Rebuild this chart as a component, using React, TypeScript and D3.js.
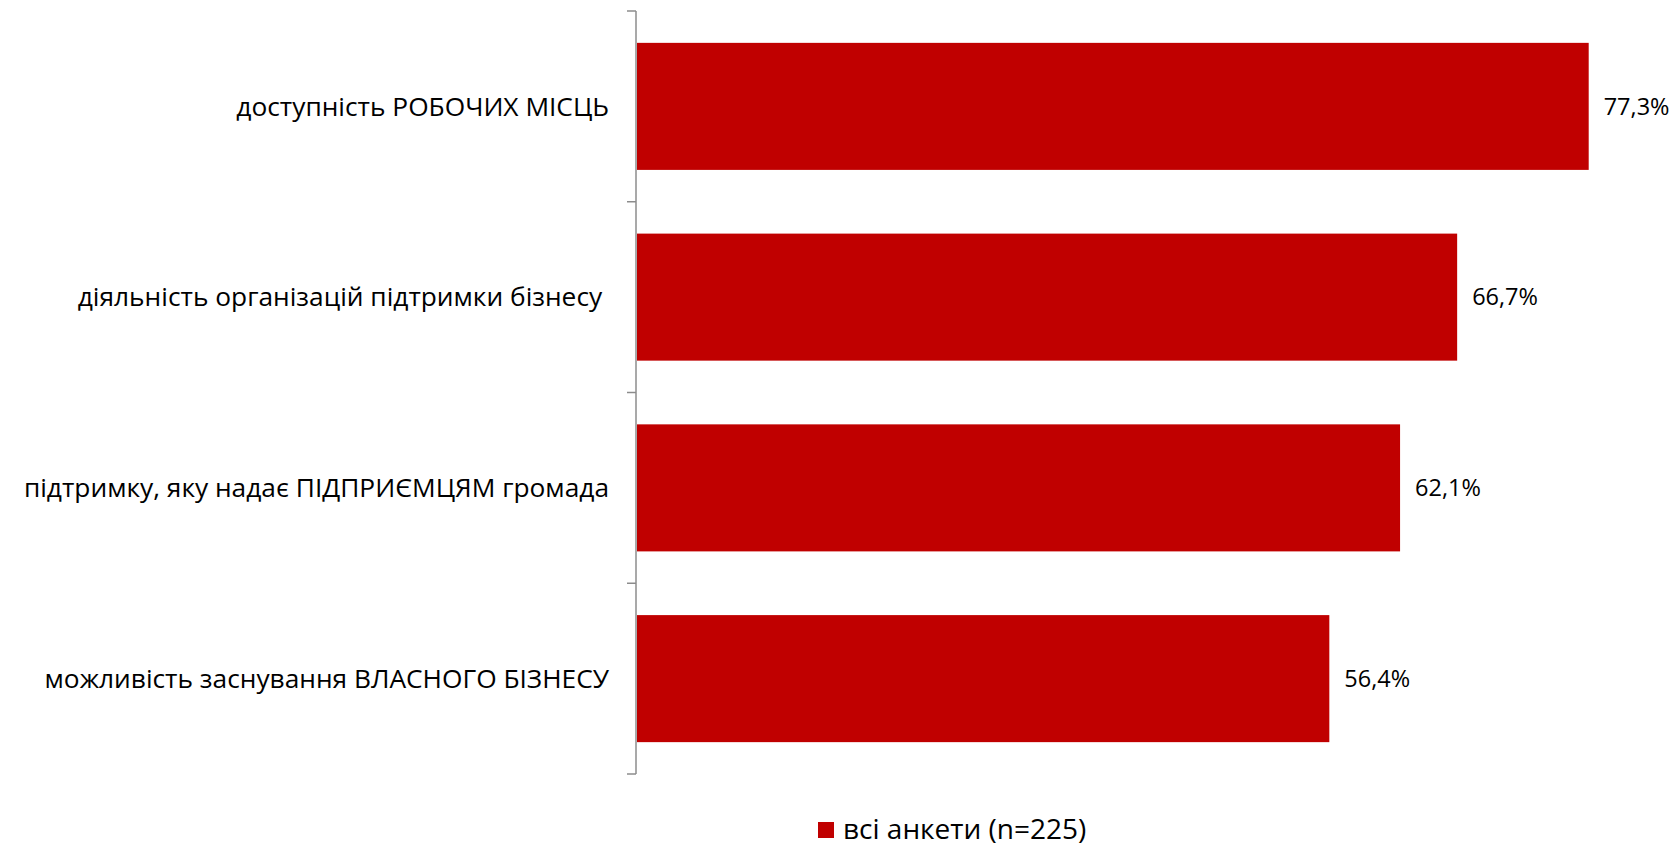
import React from "react";
import * as d3 from "d3";

const categories = [
  "доступність РОБОЧИХ МІСЦЬ",
  "діяльність організацій підтримки бізнесу ",
  "підтримку, яку надає ПІДПРИЄМЦЯМ громада",
  "можливість заснування ВЛАСНОГО БІЗНЕСУ",
];
const values = [0.773, 0.667, 0.621, 0.564];
const valueLabels = ["77,3%", "66,7%", "62,1%", "56,4%"];
const seriesName = "всі анкети (n=225)";

const W = 1674;
const H = 846;
const FONT = "'Open Sans', 'Noto Sans', sans-serif";
const BAR = "#C00000";
const AXIS = "#8C8C8C";

export default function App() {
  const axisX = 636;
  const top = 11;
  const bottom = 774;

  const y = d3.scaleBand<string>().domain(categories).range([top, bottom]).paddingInner(0.334).paddingOuter(0.167);
  const x = d3.scaleLinear().domain([0, 0.773]).range([629.4, 1588.7]);
  const bandStep = (bottom - top) / categories.length;
  const ticks = d3.range(categories.length + 1).map((i) => top + i * bandStep);

  return (
    <svg width={W} height={H} style={{ position: "absolute", left: 0, top: 0, background: "#fff" }}>
      {categories.map((c, i) => {
        const by = y(c)!;
        const x0 = axisX + 1;
        return (
          <g key={c}>
            <rect x={x0} y={by} width={x(values[i]) - x0} height={y.bandwidth()} fill={BAR} />
            <text
              x={x(values[i]) + 15}
              y={by + y.bandwidth() / 2}
              dy="0.35em"
              fontFamily={FONT}
              fontSize={23.5}
              fill="#000"
            >
              {valueLabels[i]}
            </text>
            <text
              x={609}
              y={by + y.bandwidth() / 2}
              dy="0.35em"
              textAnchor="end"
              fontFamily={FONT}
              fontSize={26.3}
              fill="#000"
              style={{ whiteSpace: "pre" }}
            >
              {c}
            </text>
          </g>
        );
      })}
      <line x1={axisX} x2={axisX} y1={top} y2={bottom} stroke={AXIS} strokeWidth={1.5} />
      {ticks.map((t, i) => (
        <line key={i} x1={axisX - 9} x2={axisX} y1={t} y2={t} stroke={AXIS} strokeWidth={1.5} />
      ))}
      <rect x={818} y={822} width={16} height={16} fill={BAR} />
      <text x={843} y={839} fontFamily={FONT} fontSize={28} fill="#000">
        {seriesName}
      </text>
    </svg>
  );
}
